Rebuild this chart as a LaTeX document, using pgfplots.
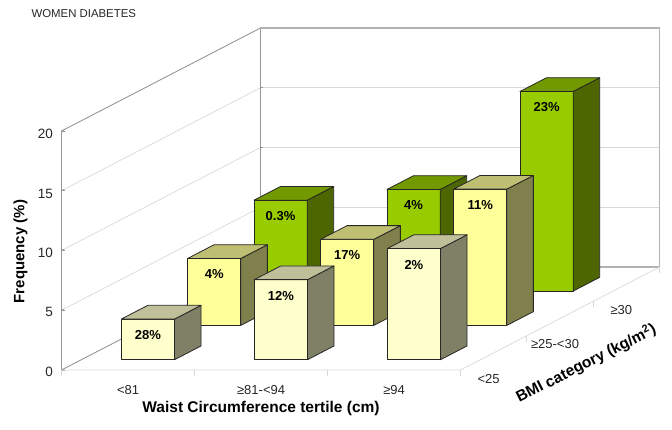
\documentclass[border=0pt]{standalone}
\usepackage{pgfplots}
\usepackage{fontspec}
\setmainfont{Liberation Sans}
\pgfplotsset{compat=1.18}

\definecolor{gfront}{HTML}{99CC00}
\definecolor{gtop}{HTML}{739900}
\definecolor{gside}{HTML}{4D6600}
\definecolor{yfront}{HTML}{FFFF99}
\definecolor{ytop}{HTML}{BFBF73}
\definecolor{yside}{HTML}{80804D}
\definecolor{pfront}{HTML}{FFFFCC}
\definecolor{ptop}{HTML}{BFBF99}
\definecolor{pside}{HTML}{808066}
\definecolor{gridc}{HTML}{D9D9D9}
\definecolor{wallc}{HTML}{969696}
\definecolor{wallr}{HTML}{B2B2B2}

% x1 x2 y1 y2 height colourprefix
\newcommand{\cuboid}[6]{
  \addplot3[forget plot,mark=none,fill=#6front,draw=black!85,line width=0.8bp,line join=round]
    coordinates {(#1,#3,0)(#2,#3,0)(#2,#3,#5)(#1,#3,#5)} --cycle;
  \addplot3[forget plot,mark=none,fill=#6side,draw=black!85,line width=0.8bp,line join=round]
    coordinates {(#2,#3,0)(#2,#4,0)(#2,#4,#5)(#2,#3,#5)} --cycle;
  \addplot3[forget plot,mark=none,fill=#6top,draw=black!85,line width=0.8bp,line join=round]
    coordinates {(#1,#3,#5)(#2,#3,#5)(#2,#4,#5)(#1,#4,#5)} --cycle;
}
\newcommand{\barlabel}[4]{
  \node[font=\fontsize{13bp}{15bp}\selectfont\bfseries,yshift=-16bp] at (axis cs:#1,#2,#3) {#4};
}

\begin{document}
\begin{tikzpicture}[x=1bp,y=1bp]
\useasboundingbox (0,0) rectangle (672,429);
\begin{axis}[
    at={(61.5bp,59bp)},anchor=origin,
    x={(133bp,0bp)},y={(66.33bp,34.33bp)},z={(0bp,11.95bp)},
    xmin=0,xmax=3,ymin=0,ymax=3,zmin=0,zmax=20,
    clip=false,
    axis line style={draw=none},
    3d box=background,
    zmajorgrids=true,xmajorgrids=false,ymajorgrids=false,
    major grid style={gridc,line width=0.7bp},
    xtick={0.5,1.5,2.5},
    xticklabels={{<81},{≥81-<94},{≥94}},
    ytick={0.5,1.5,2.5},
    yticklabels={{<25},{≥25-<30},{≥30}},
    ztick={0,5,10,15,20},
    xticklabel pos=lower,yticklabel pos=lower,zticklabel pos=lower,
    xtick pos=lower,ytick pos=lower,ztick pos=lower,
    major x tick style={draw=none},major y tick style={draw=none},
    major z tick style={wallc,line width=0.7bp},
    major tick length=3bp,
    /pgf/number format/assume math mode=true,
    tick label style={font=\fontsize{13bp}{15bp}\selectfont,text=black!85},
    xticklabel style={xshift=5bp,yshift=-12bp},
    yticklabel style={anchor=center,xshift=-5bp,yshift=-26bp},
    zticklabel style={font=\fontsize{13.5bp}{15bp}\selectfont,xshift=-5bp},
    xlabel={Waist Circumference tertile (cm)},
    ylabel={BMI category (kg/m\textsuperscript{2})},
    zlabel={Frequency (\%)},
    title={WOMEN DIABETES},
    every axis x label/.style={at={(axis cs:1.5,0,0)},anchor=center,yshift=-38.5bp,font=\fontsize{15.5bp}{17bp}\selectfont\bfseries},
    every axis y label/.style={at={(axis cs:3,1.5,0)},anchor=center,xshift=26bp,yshift=-45bp,rotate=27,font=\fontsize{15.5bp}{17bp}\selectfont\bfseries},
    every axis z label/.style={at={(axis cs:0,0,10)},anchor=center,xshift=-41bp,yshift=-1bp,rotate=90,font=\fontsize{15bp}{17bp}\selectfont\bfseries},
    every axis title/.style={at={(axis cs:0,0,20)},anchor=west,xshift=-33.5bp,yshift=117bp,font=\fontsize{11.4bp}{13bp}\selectfont,text=black!85},
]
% walls and floor edges
\addplot3[forget plot,mark=none,wallc,line width=0.8bp] coordinates {(0,0,0)(0,0,20)(0,3,20)(0,3,0)(0,0,0)};
\addplot3[forget plot,mark=none,wallr,line width=1.1bp] coordinates {(0,3,20)(3,3,20)(3,3,0)(0,3,0)};
\addplot3[forget plot,mark=none,gridc,line width=0.7bp] coordinates {(0,0,0)(3,0,0)(3,3,0)};
% ticks on the floor edges
\addplot3[forget plot,mark=none,gridc,line width=0.7bp] coordinates {(0,0,0)(0,0,-0.5)};
\addplot3[forget plot,mark=none,gridc,line width=0.7bp] coordinates {(1,0,0)(1,0,-0.5)};
\addplot3[forget plot,mark=none,gridc,line width=0.7bp] coordinates {(2,0,0)(2,0,-0.5)};
\addplot3[forget plot,mark=none,gridc,line width=0.7bp] coordinates {(3,0,0)(3,0,-0.5)};
\addplot3[forget plot,mark=none,gridc,line width=0.7bp] coordinates {(3,1,0)(3,1,-0.5)};
\addplot3[forget plot,mark=none,gridc,line width=0.7bp] coordinates {(3,2,0)(3,2,-0.5)};
\addplot3[forget plot,mark=none,gridc,line width=0.7bp] coordinates {(3,3,0)(3,3,-0.5)};
% bars, back row first
\cuboid{0.3}{0.7}{2.3}{2.7}{7.6}{g}
\cuboid{1.3}{1.7}{2.3}{2.7}{8.5}{g}
\cuboid{2.3}{2.7}{2.3}{2.7}{16.7}{g}
\cuboid{0.3}{0.7}{1.3}{1.7}{5.6}{y}
\cuboid{1.3}{1.7}{1.3}{1.7}{7.2}{y}
\cuboid{2.3}{2.7}{1.3}{1.7}{11.4}{y}
\cuboid{0.3}{0.7}{0.3}{0.7}{3.4}{p}
\cuboid{1.3}{1.7}{0.3}{0.7}{6.7}{p}
\cuboid{2.3}{2.7}{0.3}{0.7}{9.3}{p}
\barlabel{0.5}{2.3}{7.6}{0.3\%}
\barlabel{1.5}{2.3}{8.5}{4\%}
\barlabel{2.5}{2.3}{16.7}{23\%}
\barlabel{0.5}{1.3}{5.6}{4\%}
\barlabel{1.5}{1.3}{7.2}{17\%}
\barlabel{2.5}{1.3}{11.4}{11\%}
\barlabel{0.5}{0.3}{3.4}{28\%}
\barlabel{1.5}{0.3}{6.7}{12\%}
\barlabel{2.5}{0.3}{9.3}{2\%}
\end{axis}
\end{tikzpicture}
\end{document}
